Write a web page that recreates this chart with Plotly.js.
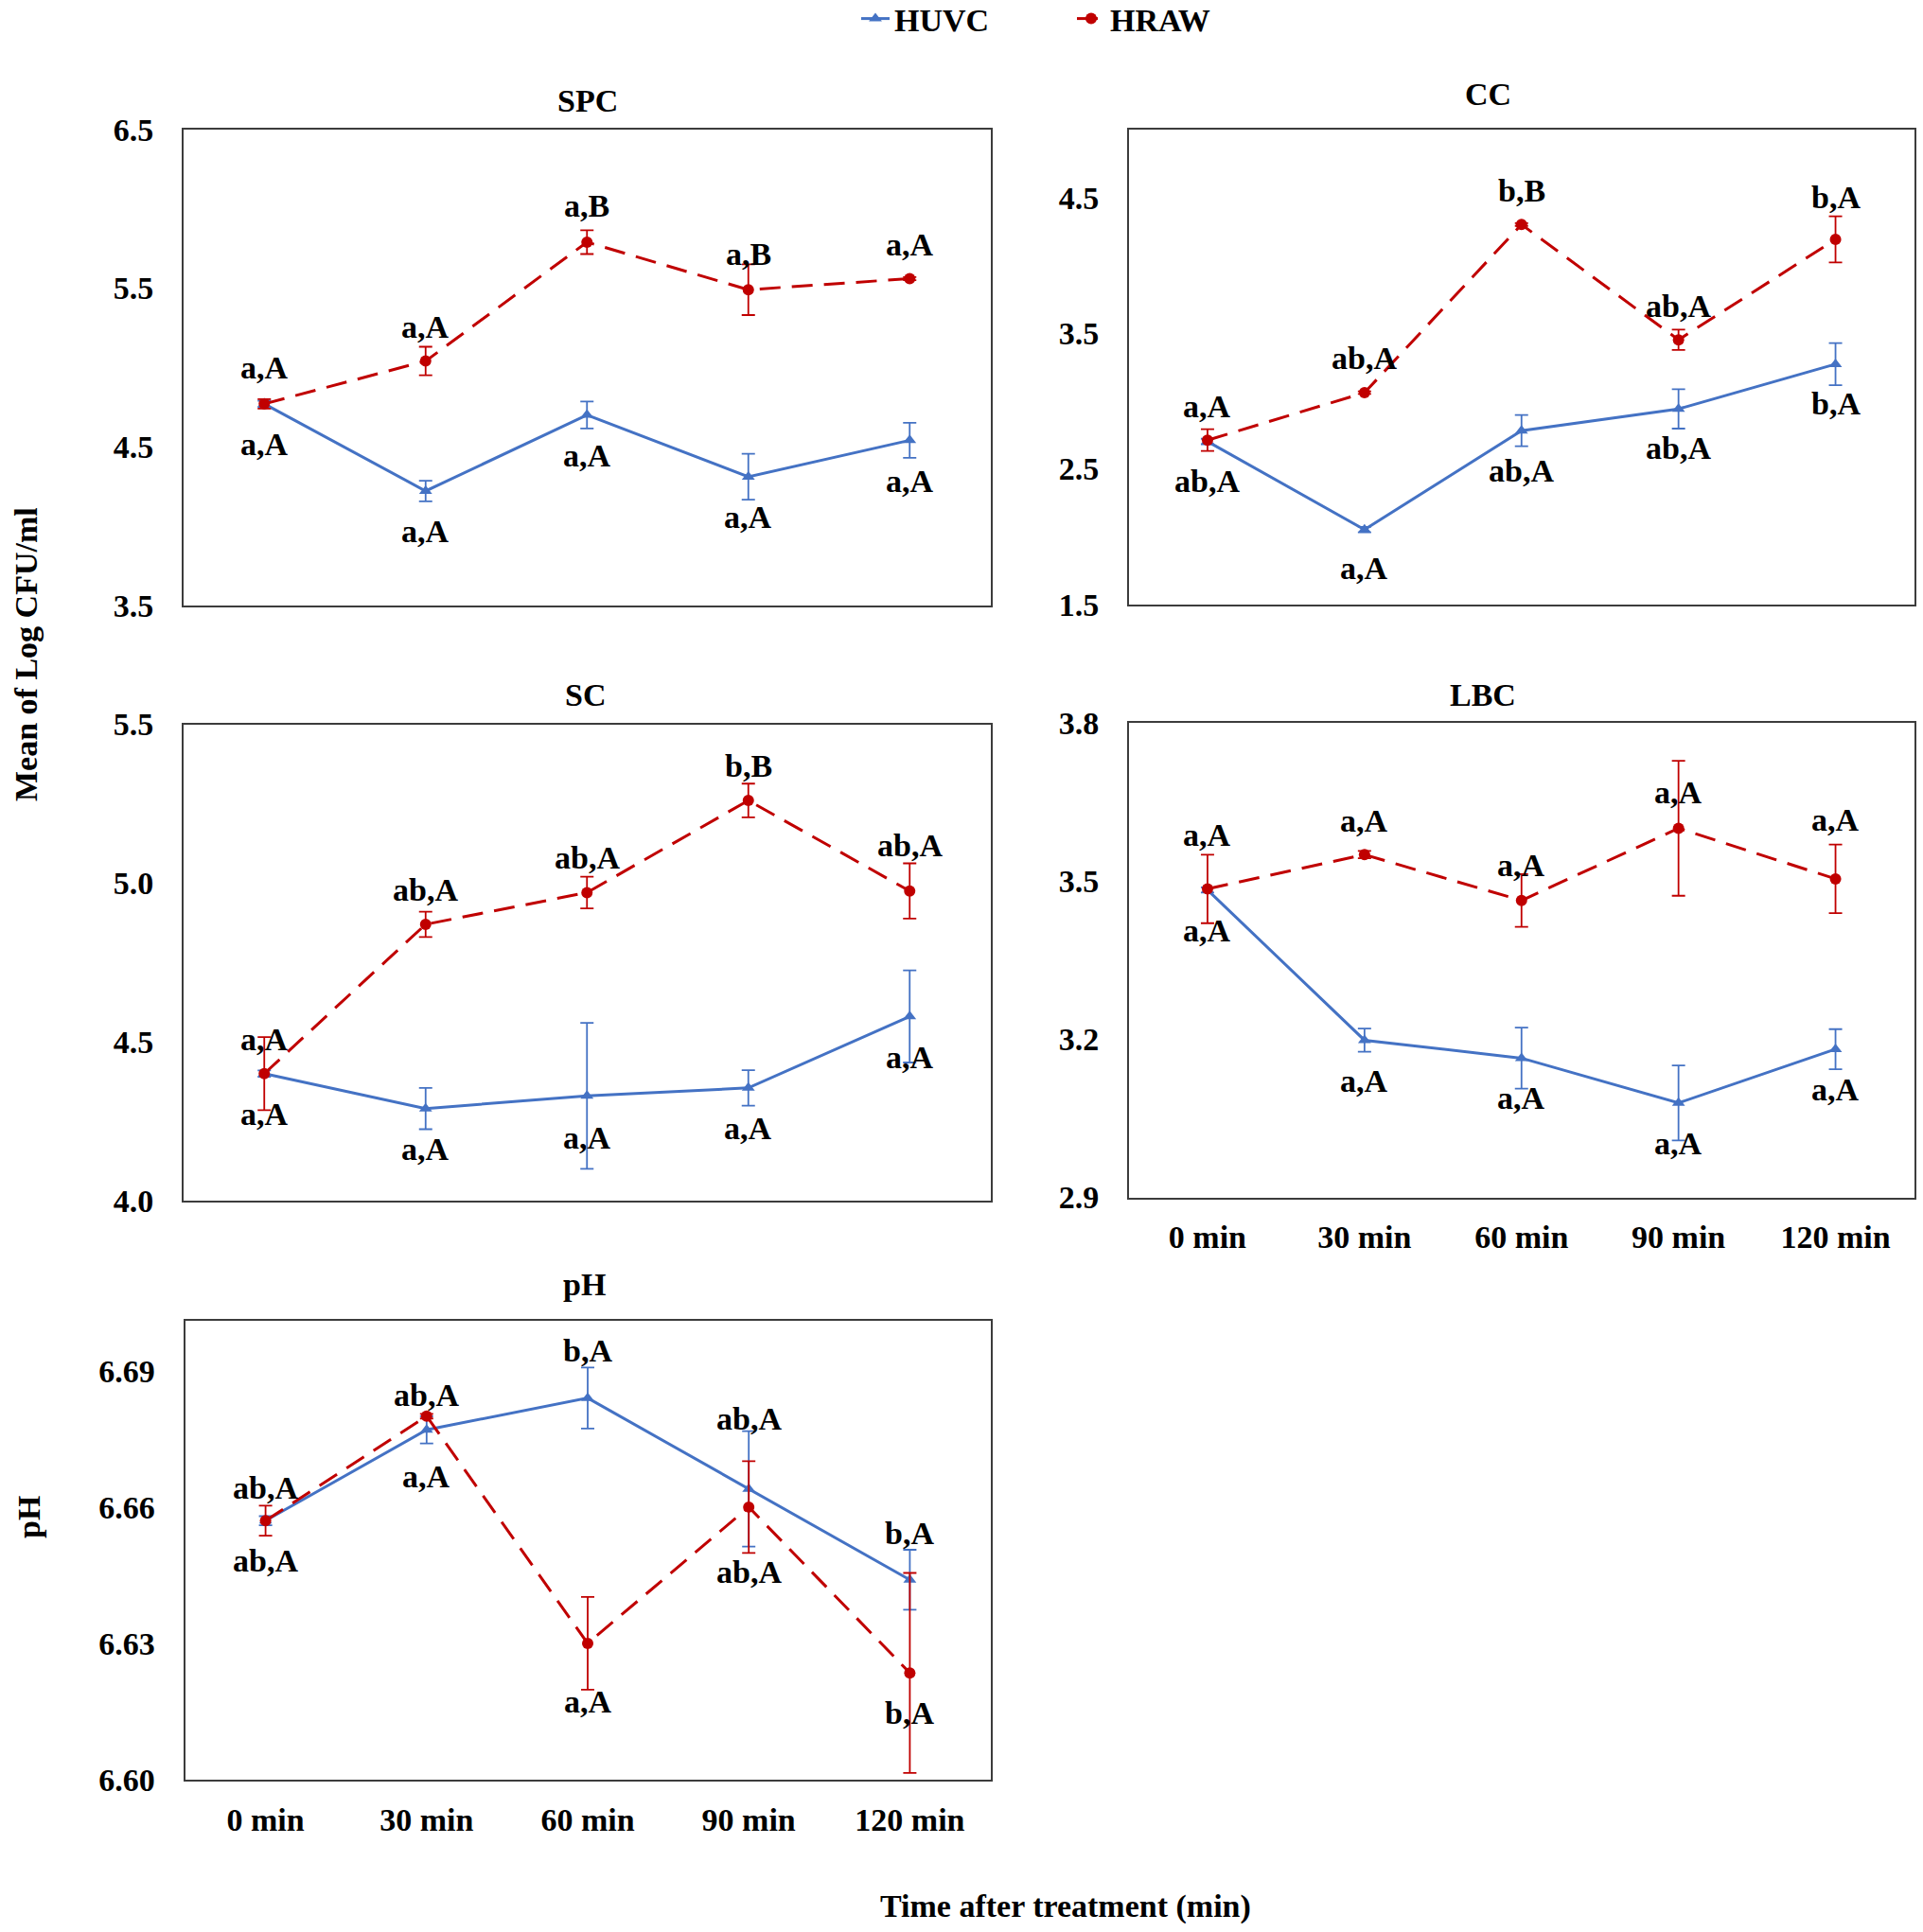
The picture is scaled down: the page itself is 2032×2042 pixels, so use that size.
<!DOCTYPE html>
<html>
<head>
<meta charset="utf-8">
<script src="https://cdn.plot.ly/plotly-3.0.1.min.js"></script>
<style>
  html, body { margin: 0; padding: 0; background: #ffffff; }
  #chart { width: 2032px; height: 2042px; }
</style>
</head>
<body>
<div id="chart"></div>
<script>
// ---------------- DATA ----------------
const categories = ['0 min', '30 min', '60 min', '90 min', '120 min'];
const seriesNames = ['HUVC', 'HRAW'];

// SPC
const spcHUVC    = [4.77, 4.22, 4.70, 4.31, 4.54];
const spcHUVCErr = [0.02, 0.065, 0.085, 0.145, 0.11];
const spcHRAW    = [4.77, 5.04, 5.79, 5.49, 5.56];
const spcHRAWErr = [0.03, 0.09, 0.075, 0.16, 0.01];
const spcHUVCLabels = ['a,A', 'a,A', 'a,A', 'a,A', 'a,A'];
const spcHRAWLabels = ['a,A', 'a,A', 'a,B', 'a,B', 'a,A'];

// CC
const ccHUVC    = [2.70, 2.05, 2.78, 2.94, 3.27];
const ccHUVCErr = [0.02, 0.02, 0.115, 0.145, 0.155];
const ccHRAW    = [2.71, 3.06, 4.30, 3.45, 4.19];
const ccHRAWErr = [0.08, 0.01, 0.01, 0.075, 0.17];
const ccHUVCLabels = ['ab,A', 'a,A', 'ab,A', 'ab,A', 'b,A'];
const ccHRAWLabels = ['a,A', 'ab,A', 'b,B', 'ab,A', 'b,A'];

// SC
const scHUVC    = [4.40, 4.29, 4.33, 4.355, 4.58];
const scHUVCErr = [0.01, 0.065, 0.23, 0.056, 0.145];
const scHRAW    = [4.40, 4.87, 4.97, 5.26, 4.975];
const scHRAWErr = [0.115, 0.04, 0.05, 0.053, 0.087];
const scHUVCLabels = ['a,A', 'a,A', 'a,A', 'a,A', 'a,A'];
const scHRAWLabels = ['a,A', 'ab,A', 'ab,A', 'b,B', 'ab,A'];

// LBC
const lbcHUVC    = [3.483, 3.198, 3.164, 3.079, 3.181];
const lbcHUVCErr = [0.005, 0.022, 0.058, 0.071, 0.038];
const lbcHRAW    = [3.485, 3.55, 3.463, 3.60, 3.504];
const lbcHRAWErr = [0.065, 0.007, 0.05, 0.128, 0.065];
const lbcHUVCLabels = ['a,A', 'a,A', 'a,A', 'a,A', 'a,A'];
const lbcHRAWLabels = ['a,A', 'a,A', 'a,A', 'a,A', 'a,A'];

// pH
const phHUVC    = [6.657, 6.677, 6.684, 6.664, 6.644];
const phHUVCErr = [0.001, 0.003, 0.0067, 0.0127, 0.0066];
const phHRAW    = [6.657, 6.680, 6.630, 6.660, 6.6235];
const phHRAWErr = [0.0033, 0.0005, 0.0102, 0.0101, 0.022];
const phHUVCLabels = ['ab,A', 'a,A', 'b,A', 'ab,A', 'b,A'];
const phHRAWLabels = ['ab,A', 'ab,A', 'a,A', 'ab,A', 'b,A'];

// tick values
const spcTicks = [3.5, 4.5, 5.5, 6.5];
const ccTicks  = [1.5, 2.5, 3.5, 4.5];
const scTicks  = [4.0, 4.5, 5.0, 5.5];
const lbcTicks = [2.9, 3.2, 3.5, 3.8];
const phTicks  = [6.60, 6.63, 6.66, 6.69];

const panelTitles = ['SPC', 'CC', 'SC', 'LBC', 'pH'];
const yTitleCFU = 'Mean of Log CFU/ml';
const yTitlePH = 'pH';
const xTitle = 'Time after treatment (min)';

// ---------------- LAYOUT / STYLE ----------------
const W = 2032, H = 2042;
const FONT = 'Liberation Serif, Times New Roman, serif';
const FS = 34;
const BLUE = '#4472C4';
const RED = '#C00000';
const px = v => v / W;
const py = v => 1 - v / H;

const panels = [
  { key: '', title: panelTitles[0], huvc: spcHUVC, huvcErr: spcHUVCErr, hraw: spcHRAW, hrawErr: spcHRAWErr,
    huvcLab: spcHUVCLabels, hrawLab: spcHRAWLabels, ticks: spcTicks, fmt: '.1f', range: [3.5, 6.5],
    xd: [194, 1046.5], yd: [137, 639.6], showX: false, titlePos: [621, 106],
    huvcOff: [-43, -43, -43, -43, -43], hrawOff: [38, 36, 38, 38, 36] },
  { key: '2', title: panelTitles[1], huvc: ccHUVC, huvcErr: ccHUVCErr, hraw: ccHRAW, hrawErr: ccHRAWErr,
    huvcLab: ccHUVCLabels, hrawLab: ccHRAWLabels, ticks: ccTicks, fmt: '.1f', range: [1.5, 5.0],
    xd: [1193, 2022.5], yd: [137, 638.6], showX: false, titlePos: [1572, 100],
    huvcOff: [-42, -41, -42, -41, -42], hrawOff: [36, 37, 36, 36, 45] },
  { key: '3', title: panelTitles[2], huvc: scHUVC, huvcErr: scHUVCErr, hraw: scHRAW, hrawErr: scHRAWErr,
    huvcLab: scHUVCLabels, hrawLab: scHRAWLabels, ticks: scTicks, fmt: '.1f', range: [4.0, 5.5],
    xd: [194, 1046.5], yd: [765.5, 1269], showX: false, titlePos: [618, 734],
    huvcOff: [-43, -43, -44, -43, -43], hrawOff: [36, 36, 37, 37, 48] },
  { key: '4', title: panelTitles[3], huvc: lbcHUVC, huvcErr: lbcHUVCErr, hraw: lbcHRAW, hrawErr: lbcHRAWErr,
    huvcLab: lbcHUVCLabels, hrawLab: lbcHRAWLabels, ticks: lbcTicks, fmt: '.1f', range: [2.9, 3.8],
    xd: [1193, 2022.5], yd: [764, 1265.5], showX: true, titlePos: [1567, 734],
    huvcOff: [-43, -43, -42, -43, -43], hrawOff: [57, 36, 37, 38, 62] },
  { key: '5', title: panelTitles[4], huvc: phHUVC, huvcErr: phHUVCErr, hraw: phHRAW, hrawErr: phHRAWErr,
    huvcLab: phHUVCLabels, hrawLab: phHRAWLabels, ticks: phTicks, fmt: '.2f', range: [6.60, 6.701],
    xd: [195.5, 1046.5], yd: [1396, 1881], showX: true, titlePos: [617, 1357],
    huvcOff: [-42, -49, 50, 74, 49], hrawOff: [35, 22, -62, -69, -42] }
];

const traces = [];
const annotations = [];
const layout = {
  width: W, height: H,
  margin: { l: 0, r: 0, t: 0, b: 0, autoexpand: false },
  paper_bgcolor: '#ffffff',
  plot_bgcolor: '#ffffff',
  font: { family: FONT, size: FS, color: '#000000', weight: 'bold' },
  showlegend: true,
  legend: {
    orientation: 'h', xref: 'container', yref: 'container',
    x: px(905), xanchor: 'left', y: py(20), yanchor: 'middle',
    font: { family: FONT, size: FS, color: '#000000', weight: 'bold' },
    bgcolor: 'rgba(0,0,0,0)', entrywidth: 183, entrywidthmode: 'pixels'
  }
};

panels.forEach((p, idx) => {
  const xa = 'x' + p.key, ya = 'y' + p.key;
  const idxs = categories.map((c, i) => i);
  traces.push({
    type: 'scatter', mode: 'lines+markers', name: seriesNames[0],
    x: categories, y: p.huvc, xaxis: xa, yaxis: ya,
    line: { color: BLUE, width: 3 },
    marker: { symbol: 'triangle-up', size: 12, color: BLUE },
    error_y: { type: 'data', array: p.huvcErr, visible: true, color: BLUE, thickness: 1.8, width: 7 },
    showlegend: idx === 0, legendgroup: 'huvc', cliponaxis: false
  });
  traces.push({
    type: 'scatter', mode: 'lines+markers', name: seriesNames[1],
    x: categories, y: p.hraw, xaxis: xa, yaxis: ya,
    line: { color: RED, width: 3, dash: '22px,12px' },
    marker: { symbol: 'circle', size: 12, color: RED },
    error_y: { type: 'data', array: p.hrawErr, visible: true, color: RED, thickness: 1.8, width: 7 },
    showlegend: idx === 0, legendgroup: 'hraw', cliponaxis: false
  });

  const axX = 'xaxis' + p.key, axY = 'yaxis' + p.key;
  layout[axX] = {
    domain: [px(p.xd[0]), px(p.xd[1])], anchor: ya,
    type: 'category', categoryorder: 'array', categoryarray: categories,
    range: [-0.5, 4.5], showgrid: false, zeroline: false,
    showline: true, mirror: true, linecolor: '#3c3c3c', linewidth: 2,
    showticklabels: p.showX, ticks: 'outside', ticklen: 11, tickcolor: 'rgba(0,0,0,0)',
    tickfont: { family: FONT, size: FS, color: '#000000', weight: 'bold' },
    automargin: false, fixedrange: true
  };
  layout[axY] = {
    domain: [py(p.yd[1]), py(p.yd[0])], anchor: xa,
    range: p.range, showgrid: false, zeroline: false,
    showline: true, mirror: true, linecolor: '#3c3c3c', linewidth: 2,
    tickmode: 'array', tickvals: p.ticks, tickformat: p.fmt,
    ticks: 'outside', ticklen: 23, tickcolor: 'rgba(0,0,0,0)',
    tickfont: { family: FONT, size: FS, color: '#000000', weight: 'bold' },
    automargin: false, fixedrange: true
  };

  // panel title
  annotations.push({
    xref: 'paper', yref: 'paper', x: px(p.titlePos[0]), y: py(p.titlePos[1]),
    xanchor: 'center', yanchor: 'middle', showarrow: false, text: p.title,
    font: { family: FONT, size: FS, color: '#000000', weight: 'bold' }
  });

  // significance labels
  idxs.forEach(i => {
    annotations.push({
      xref: xa, yref: ya, x: i, y: p.huvc[i], yshift: p.huvcOff[i],
      xanchor: 'center', yanchor: 'middle', showarrow: false, text: p.huvcLab[i],
      font: { family: FONT, size: FS, color: '#000000', weight: 'bold' }
    });
    annotations.push({
      xref: xa, yref: ya, x: i, y: p.hraw[i], yshift: p.hrawOff[i],
      xanchor: 'center', yanchor: 'middle', showarrow: false, text: p.hrawLab[i],
      font: { family: FONT, size: FS, color: '#000000', weight: 'bold' }
    });
  });
});

// shared axis titles
annotations.push({
  xref: 'paper', yref: 'paper', x: px(27), y: py(692), textangle: -90,
  xanchor: 'center', yanchor: 'middle', showarrow: false, text: yTitleCFU,
  font: { family: FONT, size: FS, color: '#000000', weight: 'bold' }
});
annotations.push({
  xref: 'paper', yref: 'paper', x: px(30), y: py(1604), textangle: -90,
  xanchor: 'center', yanchor: 'middle', showarrow: false, text: yTitlePH,
  font: { family: FONT, size: FS, color: '#000000', weight: 'bold' }
});
annotations.push({
  xref: 'paper', yref: 'paper', x: px(1126), y: py(2015),
  xanchor: 'center', yanchor: 'middle', showarrow: false, text: xTitle,
  font: { family: FONT, size: FS, color: '#000000', weight: 'bold' }
});

layout.annotations = annotations;

Plotly.newPlot('chart', traces, layout, { displayModeBar: false, staticPlot: true });
</script>
</body>
</html>
